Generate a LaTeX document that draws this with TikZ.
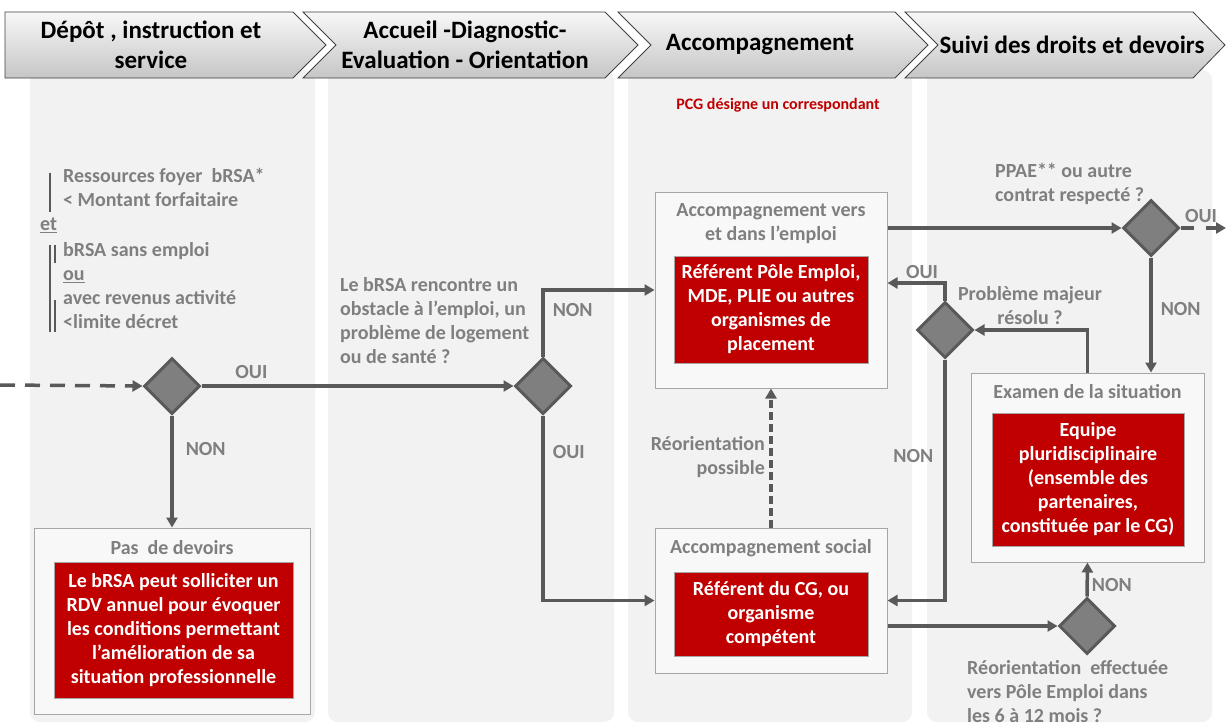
\documentclass[tikz,border=0pt]{standalone}
\usepackage{fontspec}
\setmainfont{Carlito}
\usetikzlibrary{shapes.geometric,arrows.meta}
\definecolor{panelgray}{HTML}{F2F2F2}
\definecolor{boxfill}{HTML}{F8F8F8}
\definecolor{boxgray}{HTML}{A6A6A6}
\definecolor{labelgray}{HTML}{7F7F7F}
\definecolor{linegray}{HTML}{595959}
\definecolor{darkred}{HTML}{C00000}

\begin{document}
\begin{tikzpicture}[x=1pt, y=-1pt,
    chevron/.style={draw=black!75, line width=0.8pt, top color=gray!6, bottom color=gray!45},
    headtext/.style={font=\fontsize{25}{30}\selectfont\bfseries, align=center, inner sep=0pt},
    panel/.style={fill=panelgray, rounded corners=10pt},
    outerbox/.style={draw=boxgray, fill=boxfill, line width=1pt, inner sep=0pt},
    redbox/.style={draw=boxgray, fill=darkred, text=white, align=center, line width=1pt,
                   font=\fontsize{20}{24}\selectfont\bfseries, inner sep=0pt},
    lbl/.style={text=labelgray, font=\fontsize{20}{24}\selectfont\bfseries, inner sep=0pt},
    decision/.style={diamond, aspect=1, fill=labelgray, draw=linegray, line width=3pt,
                     minimum width=56pt, minimum height=56pt, inner sep=0pt},
    flow/.style={draw=linegray, line width=3.5pt, -{Triangle[length=10pt,width=11pt]}},
    bar/.style={draw=linegray, line width=1.8pt}]
    \useasboundingbox (0,0) rectangle (1226,726);
    \fill[white] (0,0) rectangle (1226,726);
    % Columns
    \fill[panel] (30,70) rectangle (315,722);
    \fill[panel] (328,70) rectangle (614,722);
    \fill[panel] (628,70) rectangle (912,722);
    \fill[panel] (927,70) rectangle (1212,722);
    % Header
    \draw[chevron] (5,12) -- (293,12) -- (326,45) -- (293,78) -- (5,78) -- cycle;
    \draw[chevron] (303,12) -- (605,12) -- (638,45) -- (605,78) -- (303,78) -- (336,45) -- cycle;
    \draw[chevron] (618,12) -- (895,12) -- (928,45) -- (895,78) -- (618,78) -- (651,45) -- cycle;
    \draw[chevron] (905,12) -- (1193,12) -- (1225,45) -- (1193,78) -- (905,78) -- (938,45) -- cycle;
    \node[headtext] (depot) at (151,45) {Dépôt , instruction et\\service};
    \node[headtext] (accueil) at (465,45) {Accueil -Diagnostic-\\Evaluation - Orientation};
    \node[headtext] (accomp) at (760,45) {Accompagnement};
    \node[headtext] (suivi) at (1072,45) {Suivi des droits et devoirs};
    % Conditions
    \node[lbl, anchor=west, align=left] (ressources) at (63,187) {Ressources foyer\ \ bRSA*\\< Montant forfaitaire};
    \node[lbl, anchor=west] (et) at (40,225) {\underline{et}};
    \node[lbl, anchor=west, align=left] (conditions) at (63,285.5) {bRSA sans emploi\\\underline{ou}\\avec revenus activité\\<limite décret};
    \draw[bar] (50,173) -- (50,212);
    \draw[bar] (50,245) -- (50,332);
    \draw[bar] (55,245) -- (55,263);
    \draw[bar] (55,300) -- (55,332);
    % Decisions
    \coordinate (entry) at (0,385);
    \coordinate (exit) at (1226,228);
    \node[decision] (d1) at (172,386) {};
    \node[decision] (d2) at (543,386) {};
    \node[decision] (d3) at (1151,228) {};
    \node[decision] (d4) at (945,330) {};
    \node[decision] (d5) at (1087,626) {};
    % Boxes
    \node[outerbox, minimum width=276pt, minimum height=186pt] (devoirs) at (172,621) {};
    \node[lbl] (devoirstitle) at (172,548) {Pas ~de devoirs};
    \node[redbox, minimum width=239pt, minimum height=136pt] (devoirsred) at (173.5,630)
        {Le bRSA peut solliciter un\\RDV annuel pour évoquer\\les conditions permettant\\l'amélioration de sa\\situation professionnelle};
    \node[outerbox, minimum width=232pt, minimum height=196pt] (emploi) at (771,290) {};
    \node[lbl, align=center] (emploititle) at (771,224) {Accompagnement vers\\et dans l'emploi};
    \node[redbox, minimum width=194pt, minimum height=107pt] (emploired) at (771,309.5)
        {Référent Pôle Emploi,\\MDE, PLIE ou autres\\organismes de\\placement};
    \node[outerbox, minimum width=232pt, minimum height=145pt] (social) at (771,600.5) {};
    \node[lbl] (socialtitle) at (771,548) {Accompagnement social};
    \node[redbox, minimum width=194pt, minimum height=84pt] (socialred) at (771,614)
        {Référent du CG, ou\\organisme\\compétent};
    \node[outerbox, minimum width=233pt, minimum height=189pt] (examen) at (1087.5,467.5) {};
    \node[lbl] (examentitle) at (1087.5,392) {Examen de la situation};
    \node[redbox, minimum width=192pt, minimum height=133pt] (examenred) at (1088,479.5)
        {Equipe\\pluridisciplinaire\\(ensemble des\\partenaires,\\constituée par le CG)};
    % Texts
    \node[lbl, anchor=west, align=left] (obstacle) at (340,321) {Le bRSA rencontre un\\obstacle à l'emploi, un\\problème de logement\\ou de santé ?};
    \node[lbl, text=darkred, font=\fontsize{16}{20}\selectfont\bfseries] (pcg) at (778,105) {PCG désigne un correspondant};
    \node[lbl, anchor=east, align=right] (reorient) at (765,457) {Réorientation\\possible};
    \node[lbl, anchor=west, align=left] (ppae) at (995,184) {PPAE** ou autre\\contrat respecté ?};
    \node[lbl, align=center] (probleme) at (1030,306) {Problème majeur\\résolu ?};
    \node[lbl, anchor=west, align=left] (effectuee) at (967,692) {Réorientation\ \ effectuée\\vers Pôle Emploi dans\\les 6 à 12 mois ?};
    % Lines
    \draw[flow, dash pattern=on 15pt off 10pt] (entry) -- (d1.west);
    \draw[flow] (d1.east) -- (d2.west) node[lbl, pos=0.16, above=6pt] {OUI};
    \draw[flow] (d1.south) -- (devoirs.north) node[lbl, pos=0.3, right=12pt] {NON};
    \draw[flow] (d2.north) |- (emploi.west) node[lbl, pos=0.35, right=8pt] {NON};
    \draw[flow] (d2.south) |- (social.west) node[lbl, pos=0.1, right=8pt] {OUI};
    \draw[flow, dash pattern=on 8pt off 4pt] (social.north) -- (emploi.south);
    \draw[flow] (emploi.east |- d3.west) -- (d3.west);
    \draw[flow, dash pattern=on 13pt off 12pt] (d3.east) -- (exit) node[lbl, pos=0.45, above=4pt] {OUI};
    \draw[flow] (d3.south) -- (d3.south |- examen.north) node[lbl, pos=0.45, right=8pt] {NON};
    \draw[flow] (examen.north) |- (d4.east);
    \draw[flow] (d4.north) |- ([yshift=7pt]emploi.east) node[lbl, pos=0.7, above=3pt] {OUI};
    \draw[flow] (d4.south) |- (social.east) node[lbl, pos=0.2, left=10pt] {NON};
    \draw[flow] (social.east |- d5.west) -- (d5.west);
    \draw[flow] (d5.north) -- (examen.south) node[lbl, pos=0.35, right=3pt] {NON};
\end{tikzpicture}
\end{document}
